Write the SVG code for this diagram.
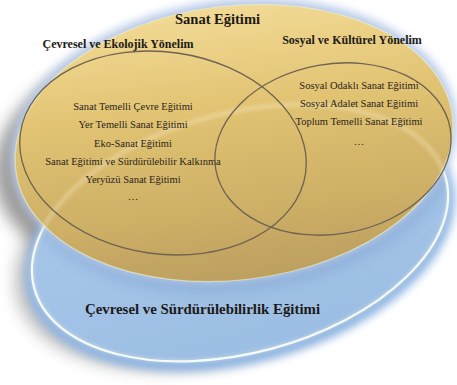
<svg xmlns="http://www.w3.org/2000/svg" width="457" height="385" viewBox="0 0 457 385">
  <defs>
    <filter id="blur8" x="-20%" y="-20%" width="140%" height="140%"><feGaussianBlur stdDeviation="8"/></filter>
    <filter id="blur4" x="-20%" y="-20%" width="140%" height="140%"><feGaussianBlur stdDeviation="4"/></filter>
    <filter id="blur2" x="-20%" y="-20%" width="140%" height="140%"><feGaussianBlur stdDeviation="1.5"/></filter>
    <clipPath id="blueClip">
      <ellipse cx="240" cy="233" rx="213" ry="120" transform="rotate(-15 240 233)"/>
    </clipPath>
    <linearGradient id="gold" x1="0" y1="0" x2="0" y2="1">
      <stop offset="0" stop-color="#f2da95"/>
      <stop offset="0.35" stop-color="#e2c474"/>
      <stop offset="0.75" stop-color="#cdaf66"/>
      <stop offset="1" stop-color="#bd9f60"/>
    </linearGradient>
    <linearGradient id="blue" x1="0" y1="0" x2="0" y2="1">
      <stop offset="0" stop-color="#a9c8ea"/>
      <stop offset="1" stop-color="#9dbee4"/>
    </linearGradient>
    <style>
      .inner { fill: none; stroke: #6f6352; stroke-width: 1.3; }
      .head { font-weight: bold; fill: #1c1a16; text-anchor: middle; }
      .item { font-size: 10.5px; fill: #2a241a; text-anchor: middle; }
    </style>
  </defs>
  <rect width="457" height="385" fill="#ffffff"/>

  <!-- shadows -->
  <ellipse cx="208" cy="155" rx="215" ry="128" transform="rotate(-7 208 155)" fill="#7a7a7a" opacity="0.75" filter="url(#blur8)"/>
  <ellipse cx="220" cy="244" rx="210" ry="118" transform="rotate(-15 220 244)" fill="#8a8a8a" opacity="0.55" filter="url(#blur8)"/>

  <g font-family="'Liberation Serif', 'DejaVu Serif', serif">
  <!-- blue ellipse: Çevresel ve Sürdürülebilirlik Eğitimi -->
  <g id="sustainability">
    <ellipse cx="240" cy="237" rx="220" ry="126" transform="rotate(-15 240 237)" fill="#8fb6e4" filter="url(#blur4)"/>
    <ellipse cx="240" cy="233" rx="213" ry="120" transform="rotate(-15 240 233)" fill="url(#blue)"/>
    <g clip-path="url(#blueClip)">
      <ellipse cx="236" cy="148" rx="222" ry="139" transform="rotate(-7 236 148)" fill="#5f86bd" opacity="0.45" filter="url(#blur8)"/>
    </g>
    <ellipse cx="240" cy="233" rx="213" ry="120" transform="rotate(-15 240 233)" fill="none" stroke="#f4fbff" stroke-width="2.2"/>
    <text class="head" x="202.5" y="314" font-size="14.2" textLength="235" lengthAdjust="spacingAndGlyphs">Çevresel ve Sürdürülebilirlik Eğitimi</text>
  </g>

  <!-- gold ellipse: Sanat Eğitimi -->
  <g id="art-education">
    <ellipse cx="234" cy="141" rx="224" ry="141" transform="rotate(-7 234 141)" fill="#b9cbe8" filter="url(#blur4)"/>
    <ellipse cx="234" cy="143" rx="220" ry="137" transform="rotate(-7 234 143)" fill="url(#gold)" stroke="#eef3cf" stroke-width="1.2" stroke-opacity="0.6"/>
    <ellipse cx="240" cy="233" rx="213" ry="120" transform="rotate(-15 240 233)" fill="none" stroke="#fff8e0" stroke-width="5" opacity="0.25" filter="url(#blur2)"/>
    <text class="head" x="217.5" y="24" font-size="14.5">Sanat Eğitimi</text>
  </g>

  <!-- left inner ellipse -->
  <g id="ecological">
    <ellipse class="inner" cx="163" cy="153" rx="144" ry="101" transform="rotate(8 163 153)"/>
    <text class="head" x="118" y="47.5" font-size="12">Çevresel ve Ekolojik Yönelim</text>
    <text class="item" x="133" y="110">Sanat Temelli Çevre Eğitimi</text>
    <text class="item" x="133" y="128">Yer Temelli Sanat Eğitimi</text>
    <text class="item" x="133" y="147">Eko-Sanat Eğitimi</text>
    <text class="item" x="133" y="165">Sanat Eğitimi ve Sürdürülebilir Kalkınma</text>
    <text class="item" x="133" y="183">Yeryüzü Sanat Eğitimi</text>
    <text class="item" x="133" y="200">…</text>
  </g>

  <!-- right inner ellipse -->
  <g id="social">
    <ellipse class="inner" cx="333" cy="149" rx="119" ry="85" transform="rotate(-10 333 149)"/>
    <text class="head" x="352" y="44" font-size="12">Sosyal ve Kültürel Yönelim</text>
    <text class="item" x="359" y="89">Sosyal Odaklı Sanat Eğitimi</text>
    <text class="item" x="359" y="107">Sosyal Adalet Sanat Eğitimi</text>
    <text class="item" x="359" y="125">Toplum Temelli Sanat Eğitimi</text>
    <text class="item" x="359" y="145">…</text>
  </g>
  </g>
</svg>
